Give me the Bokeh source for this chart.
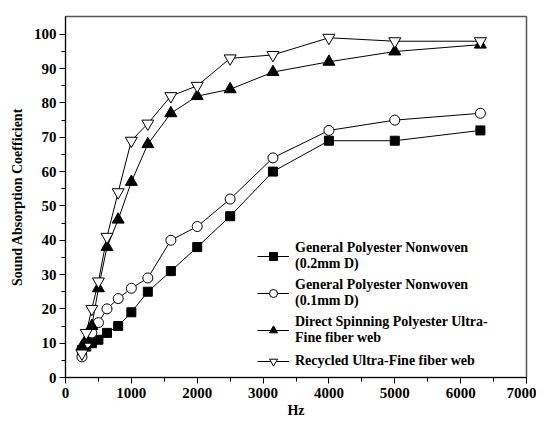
from bokeh.plotting import figure
from bokeh.models import Legend, LegendItem, Range1d, FixedTicker
from bokeh.embed import file_html
from bokeh.resources import INLINE

freq = [250, 315, 400, 500, 630, 800, 1000, 1250, 1600, 2000, 2500, 3150, 4000, 5000, 6300]
gen_02 = [8, 9, 10, 11, 13, 15, 19, 25, 31, 38, 47, 60, 69, 69, 72]
gen_01 = [6, 10, 13, 16, 20, 23, 26, 29, 40, 44, 52, 64, 72, 75, 77]
direct = [9, 11, 15, 26, 38, 46, 57, 68, 77, 82, 84, 89, 92, 95, 97]
recycled = [7, 13, 20, 28, 41, 54, 69, 74, 82, 85, 93, 94, 99, 98, 98]

labels = ["General Polyester Nonwoven\n(0.2mm D)",
          "General Polyester Nonwoven\n(0.1mm D)",
          "Direct Spinning Polyester Ultra-\nFine fiber web",
          "Recycled Ultra-Fine fiber web"]
x_ticks = [0, 1000, 2000, 3000, 4000, 5000, 6000, 7000]
y_ticks = [0, 10, 20, 30, 40, 50, 60, 70, 80, 90, 100]

FONT = "Liberation Serif"

p = figure(width=536, height=420, output_backend="svg", toolbar_location=None,
           x_range=Range1d(0, 7000), y_range=Range1d(0, 105.2),
           min_border_left=65, min_border_right=10, min_border_top=16, min_border_bottom=37)
p.grid.visible = False
p.outline_line_color = "#555555"
p.outline_line_width = 1.5

for ax in (p.xaxis[0], p.yaxis[0]):
    ax.axis_line_color = "black"
    ax.major_tick_line_color = "black"
    ax.minor_tick_line_color = "black"
    ax.major_label_text_font = FONT
    ax.major_label_text_font_style = "bold"
    ax.major_label_text_font_size = "15px"
    ax.major_label_text_color = "black"
    ax.axis_label_text_font = FONT
    ax.axis_label_text_font_style = "bold"
    ax.axis_label_text_font_size = "14px"
    ax.axis_label_text_color = "black"
    ax.major_tick_out = 6
    ax.major_tick_in = 0
    ax.minor_tick_out = 4
    ax.minor_tick_in = 0

p.xaxis.ticker = FixedTicker(ticks=x_ticks, minor_ticks=list(range(0, 7001, 500)))
p.yaxis.ticker = FixedTicker(ticks=y_ticks, minor_ticks=list(range(0, 101, 5)))
p.xaxis.axis_label = "Hz"
p.yaxis.axis_label = "Sound Absorption Coefficient"
p.xaxis.axis_label_standoff = 2
p.yaxis.axis_label_standoff = 6
p.xaxis.major_label_standoff = 4
p.yaxis.major_label_standoff = 3

items = []
series = [gen_02, gen_01, direct, recycled]
for i, ys in enumerate(series):
    ln = p.line(freq, ys, line_color="black", line_width=1)
    if i == 0:
        mk = p.scatter(freq, ys, marker="square", size=9, fill_color="black", line_color="black")
    elif i == 1:
        mk = p.scatter(freq, ys, marker="circle", size=10, fill_color="white", line_color="black")
    elif i == 2:
        mk = p.scatter(freq, ys, marker="triangle", size=12, fill_color="black", line_color="black")
    else:
        mk = p.scatter(freq, ys, marker="inverted_triangle", size=12, fill_color="white", line_color="black")
    items.append(LegendItem(label=labels[i], renderers=[ln, mk]))

legend = Legend(items=items, location=(192, 6), border_line_color=None,
                background_fill_alpha=0, label_text_font=FONT, label_text_font_style="bold",
                label_text_font_size="14px", label_text_color="black",
                label_text_line_height=1.4,
                glyph_width=32, spacing=5, padding=2, label_standoff=6)
p.add_layout(legend, "center")

open("out.html", "w").write(file_html(p, INLINE))
